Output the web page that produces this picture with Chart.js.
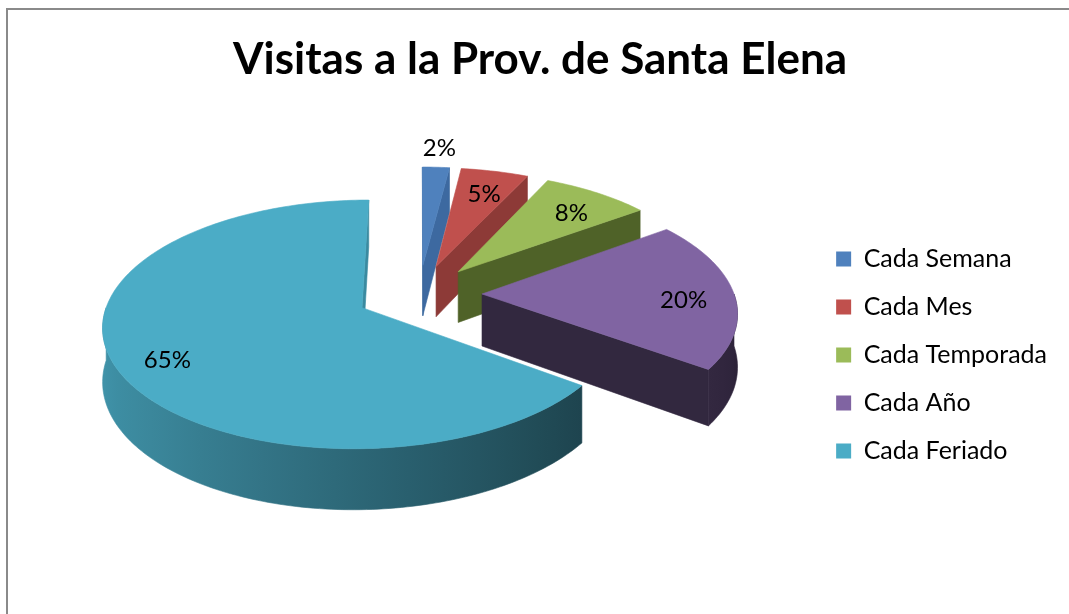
<!DOCTYPE html>
<html>
<head>
<meta charset="utf-8">
<script src="https://cdn.jsdelivr.net/npm/chart.js@4.4.0/dist/chart.umd.min.js"></script>
<style>
  html, body { margin: 0; padding: 0; background: #fff; }
  #wrap { width: 1069px; height: 614px; }
</style>
</head>
<body>
<div id="wrap"><canvas id="chart" width="1069" height="614"></canvas></div>
<script>
// ── Data ──────────────────────────────────────────────────────────────────────
const categories = ['Cada Semana', 'Cada Mes', 'Cada Temporada', 'Cada Año', 'Cada Feriado'];
const visitPct   = [2, 5, 8, 20, 65];
const chartTitle = 'Visitas a la Prov. de Santa Elena';

// ── Styles ────────────────────────────────────────────────────────────────────
const topColors  = ['#4f81bd', '#c0504d', '#9bbb59', '#8064a2', '#4bacc6'];
const wallColors = ['#3d69a0', '#8d3a37', '#4f6228', '#32283f', '#3a8aa0'];
const FONT = 'Lato, "Open Sans", sans-serif';

// pie geometry on the page (3D look: tilt, depth, explode, perspective)
const PIE = { cx: 419, cy: 294, r: 252, k: 0.47, depth: 52, explode: 63, persp: 1900 };

function proj(u, v, h) {
  const s = PIE.persp / (PIE.persp - v);
  return [PIE.cx + u * s, PIE.cy + (v * PIE.k + h) * s];
}

function shade(hex, f) {
  const n = parseInt(hex.slice(1), 16);
  const c = [(n >> 16) & 255, (n >> 8) & 255, n & 255].map(x => Math.round(Math.min(255, x * f)));
  return `rgb(${c[0]},${c[1]},${c[2]})`;
}

function polyArea(p) {
  let a = 0;
  for (let i = 0; i < p.length; i++) {
    const q = p[(i + 1) % p.length];
    a += p[i][0] * q[1] - q[0] * p[i][1];
  }
  return a;
}

function fillPoly(ctx, pts, color) {
  ctx.beginPath();
  pts.forEach((p, i) => i ? ctx.lineTo(p[0], p[1]) : ctx.moveTo(p[0], p[1]));
  ctx.closePath();
  ctx.fillStyle = color;
  ctx.fill();
  ctx.strokeStyle = color;
  ctx.lineWidth = 0.6;
  ctx.stroke();
}

function sliceGeom(arc) {
  const { startAngle, endAngle } = arc.getProps(['startAngle', 'endAngle'], true);
  const mid = (startAngle + endAngle) / 2;
  return {
    a0: startAngle, a1: endAngle, mid,
    ox: PIE.explode * Math.cos(mid),
    oy: PIE.explode * Math.sin(mid),
  };
}

function rim(g, t, h) {
  return proj(g.ox + PIE.r * Math.cos(t), g.oy + PIE.r * Math.sin(t), h);
}

function rimRange(g, t0, t1, h) {
  const n = Math.max(2, Math.ceil(Math.abs(t1 - t0) / 0.02));
  const pts = [];
  for (let i = 0; i <= n; i++) pts.push(rim(g, t0 + (t1 - t0) * i / n, h));
  return pts;
}

// ── 3D pie plugin: draws slices from the arc elements Chart.js lays out ───────
const pie3d = {
  id: 'pie3d',
  beforeDraw(chart) {
    const ctx = chart.ctx;
    ctx.save();
    ctx.strokeStyle = '#8a8a8a';
    ctx.lineWidth = 2;
    ctx.beginPath();
    ctx.moveTo(7, 614);
    ctx.lineTo(7, 9);
    ctx.lineTo(1069, 9);
    ctx.stroke();
    ctx.restore();
  },
  beforeDatasetsDraw(chart) {
    const ctx  = chart.ctx;
    const meta = chart.getDatasetMeta(0);
    const D    = PIE.depth;
    const slices = meta.data.map((arc, i) => ({ i, g: sliceGeom(arc) }));
    slices.sort((a, b) => a.g.oy - b.g.oy);

    ctx.save();
    slices.forEach(({ i, g }) => {
      const apexT = proj(g.ox, g.oy, 0);
      const apexB = proj(g.ox, g.oy, D);

      // radial walls
      const startWall = [apexT, rim(g, g.a0, 0), rim(g, g.a0, D), apexB];
      const endWall   = [apexT, rim(g, g.a1, 0), rim(g, g.a1, D), apexB];
      if (polyArea(startWall) < 0) fillPoly(ctx, startWall, wallColors[i]);
      if (polyArea(endWall) > 0)   fillPoly(ctx, endWall, wallColors[i]);

      // outer (curved) wall, where it faces the viewer
      for (let k = -1; k <= 1; k++) {
        const ts = Math.max(g.a0, 2 * Math.PI * k);
        const te = Math.min(g.a1, Math.PI + 2 * Math.PI * k);
        if (te - ts <= 0.001) continue;
        const topEdge = rimRange(g, ts, te, 0);
        const botEdge = rimRange(g, te, ts, D);
        const xs = rim(g, ts, 0)[0], xe = rim(g, te, 0)[0];
        let fill = shade(topColors[i], 0.6 - 0.25 * Math.cos((ts + te) / 2));
        if (Math.abs(xe - xs) > 1) {
          const grad = ctx.createLinearGradient(xs, 0, xe, 0);
          for (let j = 0; j <= 10; j++) {
            const t = ts + (te - ts) * j / 10;
            const pos = (rim(g, t, 0)[0] - xs) / (xe - xs);
            grad.addColorStop(Math.min(1, Math.max(0, pos)), shade(topColors[i], 0.6 - 0.25 * Math.cos(t)));
          }
          fill = grad;
        }
        fillPoly(ctx, topEdge.concat(botEdge), fill);
      }

      // top face
      fillPoly(ctx, [apexT].concat(rimRange(g, g.a0, g.a1, 0)), topColors[i]);
    });

    // percentage labels (thin slices get theirs outside the rim)
    const data  = chart.data.datasets[0].data;
    const total = data.reduce((a, b) => a + b, 0);
    ctx.font = `24px ${FONT}`;
    ctx.fillStyle = '#000';
    ctx.textAlign = 'center';
    ctx.textBaseline = 'middle';
    meta.data.forEach((arc, i) => {
      const g = sliceGeom(arc);
      const f = (g.a1 - g.a0) < 0.2 ? 1.3 : 0.8;
      const p = proj(g.ox + f * PIE.r * Math.cos(g.mid), g.oy + f * PIE.r * Math.sin(g.mid), 0);
      ctx.fillText(Math.round(data[i] / total * 100) + '%', p[0], p[1] + 6);
    });
    ctx.restore();
    return false;
  },
};

new Chart(document.getElementById('chart'), {
  type: 'pie',
  data: {
    labels: categories,
    datasets: [{
      data: visitPct,
      backgroundColor: topColors,
      borderWidth: 0,
    }],
  },
  options: {
    responsive: false,
    animation: false,
    events: [],
    layout: { padding: { left: 23, right: 12 } },
    plugins: {
      title: {
        display: true,
        text: chartTitle,
        color: '#000',
        font: { family: FONT, size: 44, weight: 'bold' },
        padding: { top: 33, bottom: 10 },
      },
      legend: {
        position: 'right',
        fullSize: false,
        labels: {
          color: '#000',
          font: { family: FONT, size: 25 },
          boxWidth: 15,
          boxHeight: 15,
          padding: 23,
        },
      },
      tooltip: { enabled: false },
    },
  },
  plugins: [pie3d],
});
</script>
</body>
</html>
